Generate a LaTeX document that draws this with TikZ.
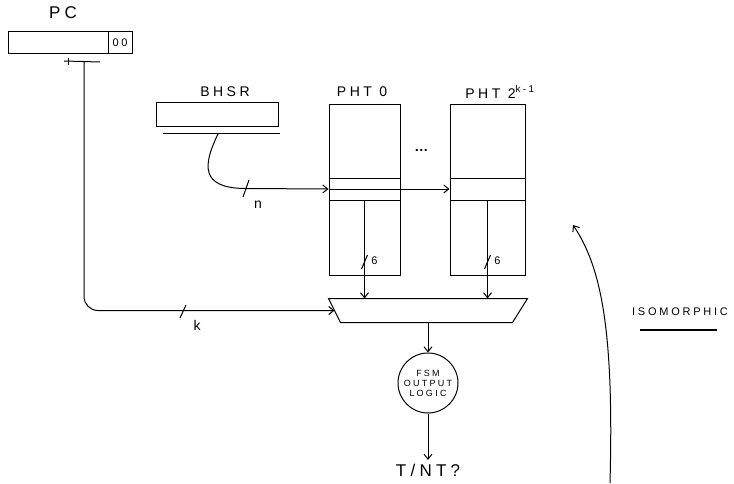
\documentclass[tikz,border=0pt]{standalone}
\usepackage{fontspec}
\setmainfont{Liberation Sans}
\newfontfamily\sketchfont[LetterSpace=25]{Liberation Sans}
\usetikzlibrary{arrows.meta}

\begin{document}
\begin{tikzpicture}[x=1pt, y=1pt, line width=1pt, >={Straight Barb[length=5pt,width=8pt]},
  reg/.style={draw, rectangle, inner sep=0pt},
  row/.style={draw, rectangle, inner sep=0pt, minimum height=22pt},
  big lbl/.style={font=\sketchfont\fontsize{17}{19}\selectfont},
  lbl/.style={font=\sketchfont\fontsize{14}{16}\selectfont},
  tiny lbl/.style={font=\sketchfont\fontsize{11}{12}\selectfont}]
  \useasboundingbox (0,0) rectangle (734,483);
  % ---- program counter ----
  \node[big lbl] (pclbl) at (63,470) {PC};
  \node[reg, minimum width=124pt, minimum height=22pt] (pc) at (70,440) {};
  \draw (108,451) -- (108,429);
  \node[tiny lbl] (pclow) at (120,440) {00};
  \draw (64,422) -- (100,421);
  \draw (68,425) -- (68,418);
  \coordinate (pctap) at (84,421);
  % ---- branch history shift register ----
  \node[lbl] (bhsrlbl) at (225,391) {BHSR};
  \node[reg, minimum width=122pt, minimum height=24pt] (bhsr) at (217,368) {};
  \draw (163,349) -- (280,349);
  \coordinate (bhsrtap) at (218,349);
  % ---- pattern history tables ----
  \node[reg, minimum width=71pt, minimum height=170pt] (pht0) at (364.5,293) {};
  \node[reg, minimum width=75pt, minimum height=170pt] (pht1) at (487.5,293) {};
  \node[row, minimum width=71pt] (e0) at (364.5,294) {};
  \node[row, minimum width=75pt] (e1) at (487.5,294) {};
  \node[lbl] (pht0lbl) at (362,391) {PHT 0};
  \node[lbl] (pht1lbl) at (500,391) {PHT 2\textsuperscript{k-1}};
  \node[lbl] (dots) at (423,333) {\textbf{\ldots}};
  % ---- selection and output ----
  \node[inner sep=0pt, minimum width=198pt, minimum height=23pt] (mux) at (428,172.5) {};
  \draw (mux.north west) -- (mux.north east) -- ([xshift=-15pt]mux.south east)
    -- ([xshift=12pt]mux.south west) -- cycle;
  \node[draw, circle, minimum size=60pt, inner sep=0pt, align=center,
    font=\sketchfont\fontsize{9}{10}\selectfont] (fsm) at (428,100) {FSM\\OUTPUT\\LOGIC};
  \node[big lbl] (tnt) at (428,13) {T/NT?};
  % ---- connectors ----
  \draw[->] (bhsrtap) .. controls (203,318) and (200,295) .. (245,294.5) -- (e0.west);
  \draw[->] (e0.west) -- (e1.west);
  \draw (243,286) -- (249,303);
  \node[lbl] (nlbl) at (258,278) {n};
  \draw[->, rounded corners=14pt] (pctap) |- ([xshift=6pt]mux.west);
  \draw (180,165) -- (186,178);
  \node[lbl] (klbl) at (197,158) {k};
  \foreach \e in {e0,e1} {
    \draw[->] (\e.south) -- (\e.south |- mux.north);
    \draw ([shift={(-3,-7)}]\e.south |- 0,221) -- ([shift={(3,7)}]\e.south |- 0,221);
    \node[tiny lbl] at ([shift={(10,1)}]\e.south |- 0,221) {6};
  }
  \draw[->] (mux.south) -- (fsm.north);
  \draw[->] (fsm.south) -- (tnt.north);
  % ---- isomorphic ----
  \node[tiny lbl] (iso) at (680,171) {ISOMORPHIC};
  \draw[line width=1.3pt] (640,153) -- (717,153);
  \coordinate (isobot) at (610,0);
  \coordinate (isotop) at (573,258);
  \draw[->] (isobot) .. controls (614,150) and (602,215) .. (isotop);
\end{tikzpicture}
\end{document}
